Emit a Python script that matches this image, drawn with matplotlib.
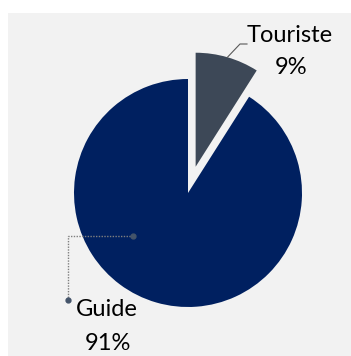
import numpy as np
import matplotlib.pyplot as plt
from matplotlib.patches import Rectangle

plt.rcParams['font.family'] = ['Lato', 'DejaVu Sans']

# Répartition des réponses
categories = ["Touriste", "Guide"]
parts = [9, 91]
colors = ["#3D4857", "#002060"]

W, H = 351, 356
R = 114.0                 # rayon du camembert en pixels
CX, CY = 188.0, 193.0     # centre (pixels, depuis le haut)
EXPLODE = 0.24
FS = 17


def px(x, y):
    """pixels (origine en haut à gauche) -> coordonnées du graphique"""
    return (x - CX) / R, (H - y - (H - CY)) / R


fig = plt.figure(figsize=(W / 100, H / 100), dpi=100, facecolor="white")
ax = fig.add_axes([0, 0, 1, 1])

wedges, _ = ax.pie(parts, colors=colors, startangle=90, counterclock=False,
                   explode=[EXPLODE, 0], radius=1.0,
                   wedgeprops=dict(linewidth=0))

x0, y0 = px(0, H)
x1, y1 = px(W, 0)
ax.set_xlim(x0, x1)
ax.set_ylim(y0, y1)
ax.set_aspect("equal", adjustable="datalim")
ax.axis("off")

# fond gris de la zone du graphique
bx, by = px(8, H)
bx2, by2 = px(W, 13)
ax.add_patch(Rectangle((bx, by), bx2 - bx, by2 - by, facecolor="#F2F2F2",
                       edgecolor="none", zorder=0))

# étiquette Touriste avec ligne de rappel depuis le milieu de l'arc
w = wedges[0]
theta_m = np.deg2rad((w.theta1 + w.theta2) / 2)
sx = w.center[0] + np.cos(theta_m)
sy = w.center[1] + np.sin(theta_m)
ex, ey = px(240, 44)
fx, fy = px(247, 44)
ax.plot([sx, ex, fx], [sy, ey, fy], color="#595959", lw=0.8, zorder=3)
tx, ty = px(290, 36)
ax.text(tx, ty, categories[0], ha="center", va="center", fontsize=FS,
        color="black")
tx, ty = px(291, 68)
ax.text(tx, ty, f"{parts[0]}%", ha="center", va="center", fontsize=FS,
        color="black")

# étiquette Guide, ligne pointillée coudée
gx, gy = px(133, 236)
kx, ky = px(68, 236)
lx, ly = px(68, 300)
ax.plot([gx, kx, lx], [gy, ky, ly], color="#7F7F7F", lw=1.0,
        linestyle=(0, (1, 1)), zorder=3)
ax.plot([gx, lx], [gy, ly], "o", color="#44546A", ms=3.5, zorder=4)
tx, ty = px(107, 310)
ax.text(tx, ty, categories[1], ha="center", va="center", fontsize=FS,
        color="black")
tx, ty = px(108, 343)
ax.text(tx, ty, f"{parts[1]}%", ha="center", va="center", fontsize=FS,
        color="black")

fig.savefig("out.png", dpi=100, facecolor=fig.get_facecolor())
